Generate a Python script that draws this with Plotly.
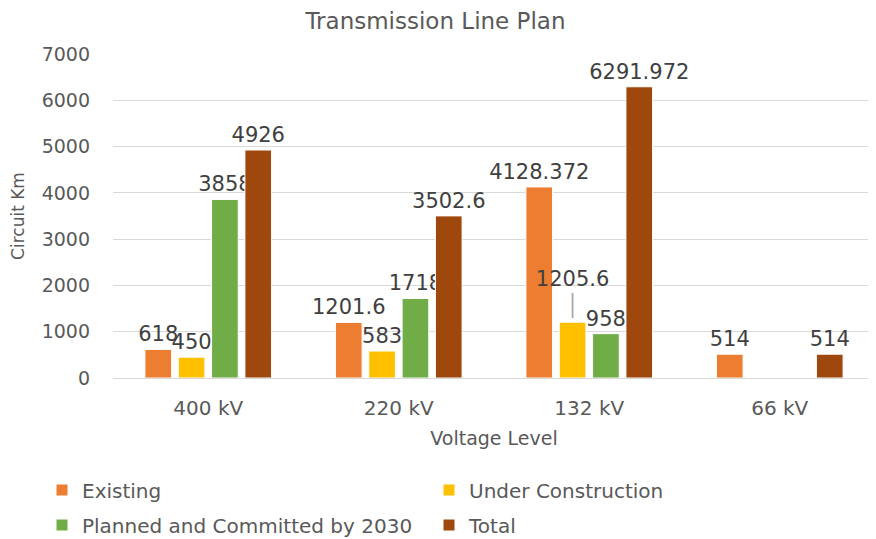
import plotly.graph_objects as go

categories = ["400 kV", "220 kV", "132 kV", "66 kV"]
existing = [618, 1201.6, 4128.372, 514]
under_construction = [450, 583, 1205.6, None]
planned = [3858, 1718, 958, None]
total = [4926, 3502.6, 6291.972, 514]

series = [
    ("Existing", existing, "#ED7D31"),
    ("Under Construction", under_construction, "#FFC000"),
    ("Planned and Committed by 2030", planned, "#70AD47"),
    ("Total", total, "#9E480E"),
]

# labels that the reference lifts above their bar with a grey leader line
leader_labels = {("Under Construction", "132 kV")}

FONT = "DejaVu Sans"
GREY = "#595959"
W, H = 868, 531  # page body has an 8px margin in the browser


def fmt(v):
    if v is None:
        return ""
    if float(v).is_integer():
        return str(int(v))
    return repr(float(v))


legend_names = ["legend", "legend2", "legend3", "legend4"]
legend_pos = [(34, 482), (421, 482), (34, 517), (421, 517)]

fig = go.Figure()
for (name, vals, color), leg in zip(series, legend_names):
    texts = []
    for cat, v in zip(categories, vals):
        t = fmt(v)
        if (name, cat) in leader_labels and t:
            t = t + "<br><span style='color:#A6A6A6'>│</span>"
        texts.append(t)
    fig.add_trace(go.Bar(
        name=name, x=categories, y=vals,
        marker=dict(color=color, line=dict(color="white", width=1)),
        text=texts,
        textposition="outside", constraintext="none", cliponaxis=False,
        textfont=dict(family=FONT, size=21, color="#404040"),
        legend=leg, showlegend=True,
    ))

layout_legends = {}
for leg, (px, py) in zip(legend_names, legend_pos):
    layout_legends[leg] = dict(
        orientation="h", xref="container", yref="container",
        xanchor="left", yanchor="middle", x=px / W, y=1 - py / H,
        font=dict(family=FONT, size=20, color=GREY),
        bgcolor="rgba(0,0,0,0)", itemclick=False, itemdoubleclick=False,
    )

fig.update_layout(
    width=W, height=H,
    margin=dict(l=105, r=1, t=46, b=161, autoexpand=False),
    paper_bgcolor="white", plot_bgcolor="white",
    title=dict(text="Transmission Line Plan", x=0.4925, xanchor="center",
               xref="container", y=1 - 13 / H, yanchor="middle",
               font=dict(family=FONT, size=23, color=GREY)),
    barmode="group", bargap=0.3, bargroupgap=0.2,
    **layout_legends,
    yaxis=dict(range=[0, 7000], dtick=1000, showgrid=True, gridcolor="#D9D9D9",
               gridwidth=1, zeroline=True, zerolinecolor="#D9D9D9", zerolinewidth=1,
               tickfont=dict(family=FONT, size=19, color=GREY), ticks="",
               ticklabelstandoff=22, automargin=False,
               title=dict(text="Circuit Km", font=dict(family=FONT, size=17, color=GREY),
                          standoff=12)),
    xaxis=dict(showline=True, linecolor="#D9D9D9", ticks="", automargin=False,
               tickfont=dict(family=FONT, size=20, color=GREY), ticklabelstandoff=12,
               title=dict(text="Voltage Level", font=dict(family=FONT, size=19, color=GREY),
                          standoff=12)),
)

fig.write_html("out.html")
